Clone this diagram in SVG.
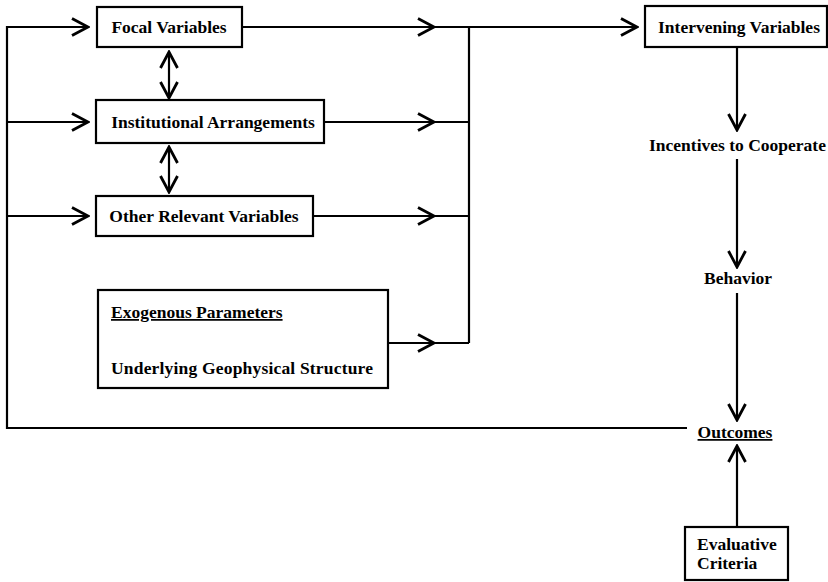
<svg xmlns="http://www.w3.org/2000/svg" width="828" height="582" viewBox="0 0 828 582">
  <style>
    .box { fill: #fff; stroke: #000; stroke-width: 2.2; }
    .ln { fill: none; stroke: #000; stroke-width: 2.2; }
    .t { font-family: "Liberation Serif", "Times New Roman", serif; font-size: 17.5px; font-weight: bold; fill: #000; }
    .u { text-decoration: underline; }
  </style>
  <defs>
    <!-- open chevron arrowhead shared by every connector -->
    <marker id="arr" viewBox="0 0 20 20" refX="18" refY="10" markerWidth="20" markerHeight="20" markerUnits="userSpaceOnUse" orient="auto-start-reverse">
      <path d="M2,1.5 L18,10 L2,18.5" fill="none" stroke="#000" stroke-width="2.8" stroke-linejoin="miter"/>
    </marker>
  </defs>

  <g id="connectors">
    <!-- feedback loop from outcomes back into the three input boxes -->
    <polyline class="ln" points="687,428 7,428 7,27 88,27" marker-end="url(#arr)"/>
    <line class="ln" x1="7" y1="122" x2="88" y2="122" marker-end="url(#arr)"/>
    <line class="ln" x1="7" y1="216" x2="88" y2="216" marker-end="url(#arr)"/>
    <!-- outputs of the input boxes into the collector bus -->
    <line class="ln" x1="242" y1="27" x2="469" y2="27"/>
    <line class="ln" x1="242" y1="27" x2="434" y2="27" marker-end="url(#arr)"/>
    <line class="ln" x1="324" y1="122" x2="469" y2="122"/>
    <line class="ln" x1="324" y1="122" x2="434" y2="122" marker-end="url(#arr)"/>
    <line class="ln" x1="313" y1="216" x2="469" y2="216"/>
    <line class="ln" x1="313" y1="216" x2="434" y2="216" marker-end="url(#arr)"/>
    <line class="ln" x1="388" y1="343" x2="469" y2="343"/>
    <line class="ln" x1="388" y1="343" x2="434" y2="343" marker-end="url(#arr)"/>
    <line class="ln" x1="469" y1="27" x2="469" y2="343"/>
    <line class="ln" x1="469" y1="27" x2="637" y2="27" marker-end="url(#arr)"/>
    <!-- mutual links between focal, institutional and other variables -->
    <line class="ln" x1="169" y1="52" x2="169" y2="98" marker-start="url(#arr)" marker-end="url(#arr)"/>
    <line class="ln" x1="169" y1="147" x2="169" y2="192" marker-start="url(#arr)" marker-end="url(#arr)"/>
    <!-- causal chain on the right -->
    <line class="ln" x1="737" y1="47" x2="737" y2="130" marker-end="url(#arr)"/>
    <line class="ln" x1="737" y1="159" x2="737" y2="267" marker-end="url(#arr)"/>
    <line class="ln" x1="737" y1="293" x2="737" y2="420" marker-end="url(#arr)"/>
    <line class="ln" x1="737" y1="527" x2="737" y2="446" marker-end="url(#arr)"/>
  </g>

  <g id="focal">
    <rect class="box" x="97" y="7" width="145" height="40"/>
    <text class="t" x="169" y="33" text-anchor="middle">Focal Variables</text>
  </g>
  <g id="institutional">
    <rect class="box" x="96" y="100" width="228" height="43"/>
    <text class="t" x="213" y="128" text-anchor="middle">Institutional Arrangements</text>
  </g>
  <g id="other">
    <rect class="box" x="96" y="196" width="217" height="40"/>
    <text class="t" x="204" y="222" text-anchor="middle">Other Relevant Variables</text>
  </g>
  <g id="exogenous">
    <rect class="box" x="98" y="290" width="290" height="98"/>
    <text class="t u" x="111" y="318">Exogenous Parameters</text>
    <text class="t" x="111" y="374" textLength="262" lengthAdjust="spacing">Underlying Geophysical Structure</text>
  </g>
  <g id="intervening">
    <rect class="box" x="645" y="6" width="182" height="41"/>
    <text class="t" x="739" y="33" text-anchor="middle">Intervening Variables</text>
  </g>
  <g id="incentives">
    <text class="t" x="649" y="151">Incentives to Cooperate</text>
  </g>
  <g id="behavior">
    <text class="t" x="738" y="284" text-anchor="middle">Behavior</text>
  </g>
  <g id="outcomes">
    <text class="t u" x="735" y="438" text-anchor="middle">Outcomes</text>
  </g>
  <g id="evaluative">
    <rect class="box" x="685" y="527" width="103" height="53"/>
    <text class="t" x="697" y="550">Evaluative</text>
    <text class="t" x="697" y="569">Criteria</text>
  </g>
</svg>
